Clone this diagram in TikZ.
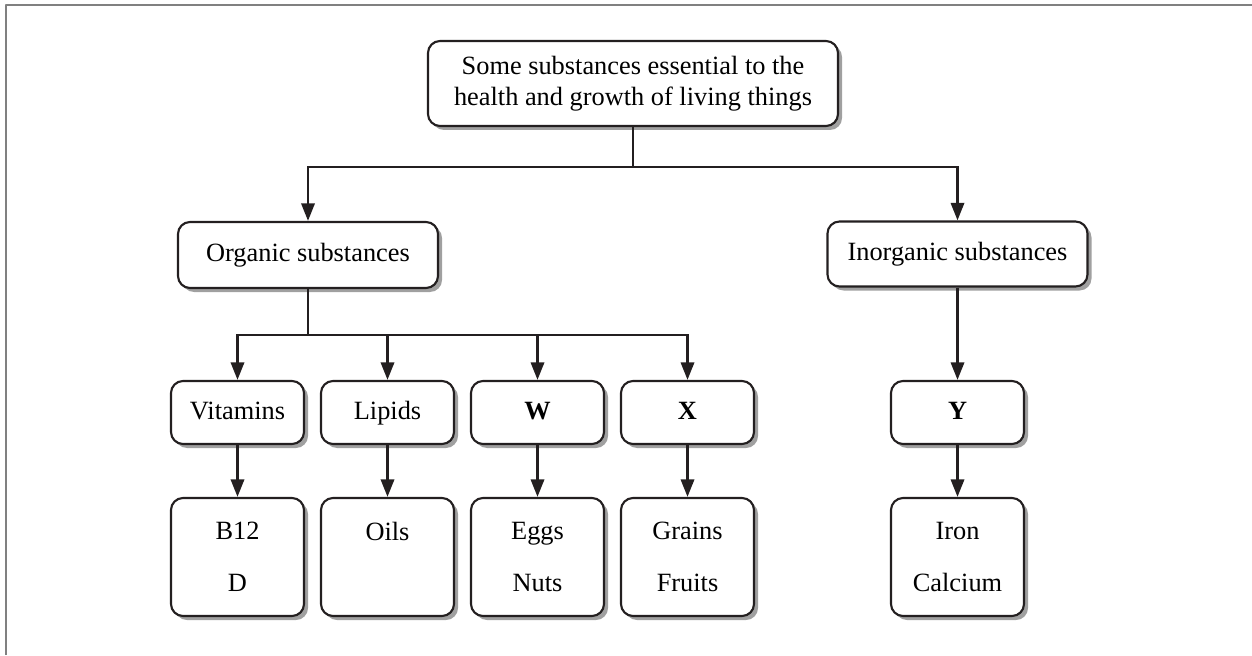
\documentclass[tikz,border=0pt]{standalone}
\usepackage{fontspec}
\setmainfont{Liberation Serif}
\usetikzlibrary{arrows.meta,shadows}

\begin{document}
\begin{tikzpicture}[x=1cm,y=1cm,line cap=round,line join=round]

\definecolor{ink}{RGB}{35,31,32}
\definecolor{shade}{RGB}{160,160,160}
\definecolor{frameGray}{RGB}{128,128,128}

\tikzset{
  box/.style={draw=ink, line width=1.2pt, fill=white, rounded corners=.24cm,
    align=center, inner sep=0pt, font=\fontsize{15}{17.5}\selectfont,
    drop shadow={shadow xshift=.08cm, shadow yshift=-.08cm, fill=shade, opacity=1}},
  kind/.style={box, minimum width=2.66cm, minimum height=1.26cm, text height=11pt, text depth=3.5pt},
  food/.style={box, minimum width=2.66cm, minimum height=2.36cm},
  link/.style={draw=ink, line width=1.6pt, line cap=butt, line join=miter,
    -{Triangle[length=10pt,width=7.5pt]}}
}

\path[use as bounding box] (0,0) rectangle (25.04,13.1);

% frame
\draw[frameGray, line width=1pt, line cap=butt] (.12,0) -- (.12,13) -- (25.04,13);

% top
\node[box, minimum width=8.2cm, minimum height=1.7cm] (top) at (12.66,11.43)
  {Some substances essential to the\\health and growth of living things};

% two groups
\node[box, minimum width=5.2cm, minimum height=1.32cm] (org) at (6.16,8) {Organic substances};
\node[box, minimum width=5.2cm, minimum height=1.3cm] (inorg) at (19.15,8.02) {Inorganic substances};

% kinds
\node[kind] (vit) at (4.75,4.85) {Vitamins};
\node[kind] (lip) at (7.75,4.85) {Lipids};
\node[kind] (w) at (10.75,4.85) {\textbf{W}};
\node[kind] (x) at (13.75,4.85) {\textbf{X}};
\node[kind] (y) at (19.15,4.85) {\textbf{Y}};

% examples
\node[food] (vitFood) at (4.75,1.96) {B12\\[12pt]D};
\node[food] (lipFood) at (7.75,1.96) {Oils\\[12pt]\phantom{D}};
\node[food] (wFood) at (10.75,1.96) {Eggs\\[12pt]Nuts};
\node[food] (xFood) at (13.75,1.96) {Grains\\[12pt]Fruits};
\node[food] (yFood) at (19.15,1.96) {Iron\\[12pt]Calcium};

% connectors
\draw[link] (top.south) -- ++(0,-.8) -| (org.north);
\draw[link] (top.south) -- ++(0,-.8) -| (inorg.north);
\draw[link] (org.south) -- ++(0,-.92) -| (vit.north);
\draw[link] (org.south) -- ++(0,-.92) -| (lip.north);
\draw[link] (org.south) -- ++(0,-.92) -| (w.north);
\draw[link] (org.south) -- ++(0,-.92) -| (x.north);
\draw[link] (inorg.south) -- (y.north);
\draw[link] (vit.south) -- (vitFood.north);
\draw[link] (lip.south) -- (lipFood.north);
\draw[link] (w.south) -- (wFood.north);
\draw[link] (x.south) -- (xFood.north);
\draw[link] (y.south) -- (yFood.north);

\end{tikzpicture}
\end{document}
